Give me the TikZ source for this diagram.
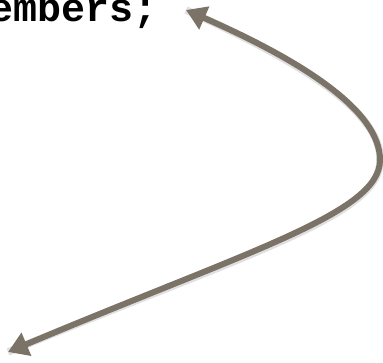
\documentclass[tikz,border=0pt]{standalone}
\usepackage{fontspec}
\usepackage{xcolor}
\usepackage{tikz}
\usetikzlibrary{arrows.meta}
\newfontfamily\codefont{Liberation Mono}

\definecolor{arrowgray}{RGB}{124,115,104}

\begin{document}
\begin{tikzpicture}[x=1pt,y=-1pt]

\useasboundingbox (0,0) rectangle (383,362);
\clip (0,0) rectangle (383,362);

\node[anchor=base west, inner sep=0pt] (code) at (-11,21) {\codefont\bfseries\fontsize{40}{40}\selectfont embers;};

\coordinate (topend) at (186,10);
\coordinate (turn) at (380,160);
\coordinate (botend) at (8,352);

% shadow
\draw[black, opacity=0.12, line width=7.5pt, shift={(1.5,2)}]
  (topend) .. controls (300,60) and (380,110) .. (turn)
  .. controls (380,213) and (250,250) .. (botend);

% arrow
\draw[arrowgray, line width=6pt, {Triangle[length=20pt,width=24pt]}-{Triangle[length=20pt,width=24pt]}]
  (topend) .. controls (300,60) and (380,110) .. (turn)
  .. controls (380,213) and (250,250) .. (botend);

\end{tikzpicture}
\end{document}
